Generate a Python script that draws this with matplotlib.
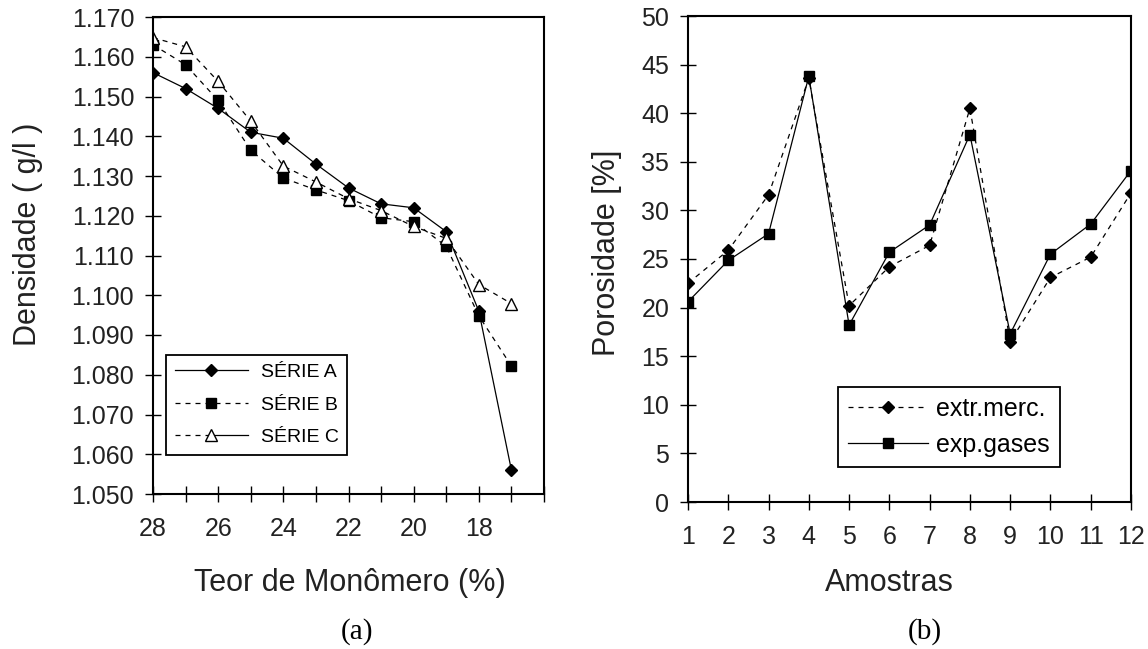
import matplotlib
matplotlib.use('Agg')
import matplotlib.pyplot as plt
from matplotlib.lines import Line2D
from matplotlib.legend_handler import HandlerBase

plt.rcParams['font.family'] = 'Liberation Sans'

# (a) densidade x teor de monomero
teor = [28, 27, 26, 25, 24, 23, 22, 21, 20, 19, 18, 17]
serie_a = [1.156, 1.152, 1.147, 1.141, 1.1395, 1.133, 1.127, 1.123, 1.122, 1.116, 1.096, 1.056]
serie_b = [1.163, 1.158, 1.149, 1.1365, 1.1295, 1.1265, 1.1238, 1.1195, 1.1185, 1.1123, 1.0948, 1.0822]
serie_c = [1.1648, 1.1625, 1.1538, 1.1438, 1.1325, 1.1285, 1.1243, 1.1213, 1.1173, 1.1143, 1.1027, 1.0979]

# (b) porosidade por amostra
amostras = [1, 2, 3, 4, 5, 6, 7, 8, 9, 10, 11, 12]
extr_merc = [22.5, 25.9, 31.6, 43.6, 20.2, 24.2, 26.4, 40.5, 16.5, 23.1, 25.2, 31.8]
exp_gases = [20.6, 24.85, 27.6, 43.8, 18.2, 25.7, 28.5, 37.8, 17.3, 25.5, 28.6, 34.1]


class HalfDashHandler(HandlerBase):
    # legend key: dashed on the left, solid on the right, marker in the middle
    def create_artists(self, legend, orig, xd, yd, w, h, fs, trans):
        y = (h - yd) / 2
        x0, xm, x1 = -xd, -xd + w / 2, -xd + w
        left = Line2D([x0, xm], [y, y], color='black', lw=0.9, ls=(0, (4, 4)))
        right = Line2D([xm, x1], [y, y], color='black', lw=0.9)
        mk = Line2D([xm], [y], marker=orig.get_marker(), ms=orig.get_markersize(),
                    mfc=orig.get_markerfacecolor(), mec='black', ls='none')
        for a in (left, right, mk):
            a.set_transform(trans)
        return [left, right, mk]


fig = plt.figure(figsize=(11.48, 6.49), dpi=100)
ax1 = fig.add_axes([153 / 1148, 1 - 494 / 649, 391 / 1148, 477 / 649])
ax2 = fig.add_axes([688 / 1148, 1 - 502 / 649, 443 / 1148, 486 / 649])

dash = (0, (4, 4))
ax1.plot(teor, serie_a, color='black', lw=0.9, marker='D', ms=6, label='SÉRIE A')
ax1.plot(teor, serie_b, color='black', lw=0.9, ls=dash, marker='s', ms=7.5, label='SÉRIE B')
lc, = ax1.plot(teor, serie_c, color='black', lw=0.9, ls=dash, marker='^', ms=8,
               mfc='white', mec='black', label='SÉRIE C')

ax1.set_xlim(28, 16)
ax1.set_ylim(1.050, 1.170)
ax1.set_xticks(range(28, 15, -1))
ax1.set_xticklabels([str(t) if t % 2 == 0 and t > 16 else '' for t in range(28, 15, -1)])
yt = [1.050 + 0.01 * i for i in range(13)]
ax1.set_yticks(yt)
ax1.set_yticklabels(['%.3f' % v for v in yt])

ax2.plot(amostras, extr_merc, color='black', lw=0.9, ls=dash, marker='D', ms=6, label='extr.merc.')
ax2.plot(amostras, exp_gases, color='black', lw=0.9, marker='s', ms=7.5, label='exp.gases')
ax2.set_xlim(1, 12)
ax2.set_ylim(0, 50)
ax2.set_xticks(amostras)
ax2.set_yticks(range(0, 51, 5))

for ax in (ax1, ax2):
    for s in ax.spines.values():
        s.set_linewidth(1.5)
    ax.tick_params(direction='inout', length=11, width=1, labelsize=18, top=False, right=False)
    ax.tick_params(axis='x', pad=11)
    ax.tick_params(axis='y', pad=8)
    for lab in ax.get_xticklabels() + ax.get_yticklabels():
        lab.set_color('#222222')

leg1 = ax1.legend(loc='lower left', bbox_to_anchor=(0.033, 0.082), borderaxespad=0,
                  fontsize=14, handlelength=3.75, handletextpad=0.67, labelspacing=0.77,
                  borderpad=0.45, fancybox=False, framealpha=1, edgecolor='black',
                  handler_map={lc: HalfDashHandler()})
leg1.get_frame().set_linewidth(1.3)

leg2 = ax2.legend(loc='lower left', bbox_to_anchor=(0.339, 0.072), borderaxespad=0,
                  fontsize=18, handlelength=3.2, handletextpad=0.32, labelspacing=0.48,
                  borderpad=0.4, fancybox=False, framealpha=1, edgecolor='black')
leg2.get_frame().set_linewidth(1.3)

fig.text(28 / 1148, 1 - 234 / 649, 'Densidade ( g/l )', rotation=90, ha='center', va='center',
         fontsize=22, color='#222222')
fig.text(607 / 1148, 1 - 253 / 649, 'Porosidade [%]', rotation=90, ha='center', va='center',
         fontsize=22, color='#222222')
fig.text(350 / 1148, 1 - 583 / 649, 'Teor de Monômero (%)', ha='center', va='center',
         fontsize=22, color='#222222')
fig.text(889 / 1148, 1 - 583 / 649, 'Amostras', ha='center', va='center',
         fontsize=22, color='#222222')
fig.text(357 / 1148, 1 - 632 / 649, '(a)', ha='center', va='center', fontsize=21,
         family='Liberation Serif')
fig.text(925 / 1148, 1 - 632 / 649, '(b)', ha='center', va='center', fontsize=21,
         family='Liberation Serif')

fig.savefig('out.png', dpi=100)
